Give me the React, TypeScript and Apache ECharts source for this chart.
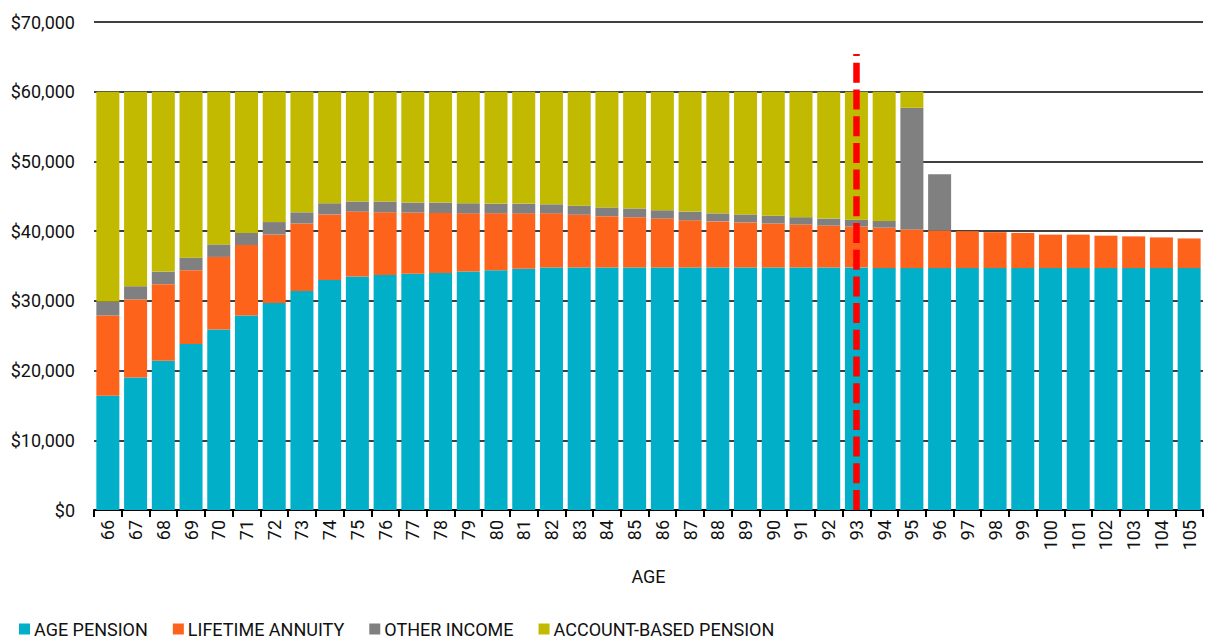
import React, { useEffect, useRef } from "react";
import * as echarts from "echarts";

const ages: string[] = [
  "66","67","68","69","70","71","72","73","74","75","76","77","78","79","80","81","82","83","84","85",
  "86","87","88","89","90","91","92","93","94","95","96","97","98","99","100","101","102","103","104","105",
];

const agePension: number[] = [
  16400, 19000, 21400, 23800, 25900, 27900, 29700, 31400, 33000, 33500,
  33700, 33900, 34000, 34200, 34400, 34600, 34800, 34800, 34800, 34800,
  34800, 34800, 34800, 34800, 34800, 34800, 34800, 34800, 34700, 34700,
  34700, 34700, 34700, 34700, 34700, 34700, 34700, 34700, 34700, 34700,
];

const lifetimeAnnuity: number[] = [
  11500, 11200, 11000, 10600, 10400, 10100, 9800, 9700, 9400, 9300,
  9000, 8750, 8600, 8350, 8150, 7950, 7750, 7550, 7350, 7200,
  7000, 6750, 6600, 6450, 6300, 6150, 6000, 5850, 5800, 5550,
  5400, 5300, 5150, 5050, 4800, 4800, 4650, 4550, 4400, 4250,
];

const otherIncome: number[] = [
  2000, 1900, 1800, 1800, 1800, 1750, 1800, 1600, 1600, 1450,
  1550, 1450, 1500, 1450, 1400, 1400, 1300, 1300, 1250, 1250,
  1200, 1250, 1150, 1150, 1100, 1050, 1000, 1000, 950, 17450,
  8050, 0, 0, 0, 0, 0, 0, 0, 0, 0,
];

const accountBased: number[] = [
  30100, 27900, 25800, 23800, 21900, 20250, 18700, 17300, 16000, 15750,
  15750, 15900, 15900, 16000, 16050, 16050, 16150, 16350, 16600, 16750,
  17000, 17200, 17450, 17600, 17800, 18000, 18200, 18350, 18550, 2300,
  0, 0, 0, 0, 0, 0, 0, 0, 0, 0,
];

const seriesNames: string[] = ["AGE PENSION", "LIFETIME ANNUITY", "OTHER INCOME", "ACCOUNT-BASED PENSION"];
const seriesColors: string[] = ["#01AFC9", "#FE631C", "#808080", "#C1BA00"];

const markerAge = "93";
const markerTop = 65400;

const FONT = "Roboto";

export default function App() {
  const ref = useRef<HTMLDivElement>(null);

  useEffect(() => {
    if (!ref.current) return;
    const chart = echarts.init(ref.current, null, { renderer: "svg" });
    const datasets = [agePension, lifetimeAnnuity, otherIncome, accountBased];

    const series: any[] = datasets.map((d, i) => ({
      name: seriesNames[i],
      type: "bar",
      stack: "total",
      barCategoryGap: "17%",
      data: d,
      itemStyle: { color: seriesColors[i] },
      emphasis: { disabled: true },
    }));

    series[0].markLine = {
      silent: true,
      symbol: ["none", "none"],
      label: { show: false },
      lineStyle: { color: "#FF0000", width: 6.5, type: [20, 6.7], cap: "butt" },
      data: [[{ coord: [markerAge, 0] }, { coord: [markerAge, markerTop] }]],
    };

    chart.setOption({
      animation: false,
      grid: { left: 94, right: 7, top: 22, bottom: 129, containLabel: false },
      legend: {
        left: 19,
        top: 619,
        padding: 0,
        itemWidth: 11,
        itemHeight: 11,
        itemGap: 25,
        icon: "rect",
        textStyle: { fontFamily: FONT, fontSize: 18, color: "#111", padding: [0, 0, 0, -1], lineHeight: 20 },
        data: seriesNames,
      },
      xAxis: {
        type: "category",
        data: ages,
        name: "AGE",
        nameLocation: "middle",
        nameGap: 57,
        nameTextStyle: { fontFamily: FONT, fontSize: 18, color: "#111" },
        axisLine: { lineStyle: { color: "#000", width: 2 } },
        axisTick: { show: true, length: 7, lineStyle: { color: "#000", width: 2 } },
        axisLabel: { rotate: 90, margin: 10, fontFamily: FONT, fontSize: 18, color: "#111", interval: 0 },
      },
      yAxis: {
        type: "value",
        min: 0,
        max: 70000,
        interval: 10000,
        axisLine: { show: false },
        axisTick: { show: false },
        splitLine: { lineStyle: { color: "#000", width: 1.5 } },
        axisLabel: {
          margin: 19,
          fontFamily: FONT,
          fontSize: 18,
          color: "#111",
          formatter: (v: number) => "$" + v.toLocaleString("en-US"),
        },
      },
      series,
    });

    return () => chart.dispose();
  }, []);

  return <div ref={ref} style={{ width: 1210, height: 639, position: "absolute", left: 0, top: 0 }} />;
}
